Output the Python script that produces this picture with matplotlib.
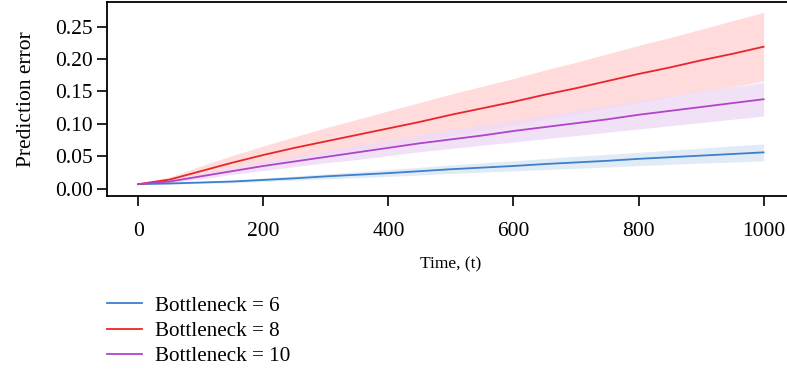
import matplotlib
matplotlib.use('Agg')
import matplotlib.pyplot as plt

# data (every 50 steps)
#=============================
t = [0, 50, 100, 150, 200, 250, 300, 350, 400, 450, 500,
     550, 600, 650, 700, 750, 800, 850, 900, 950, 1000]

err_b6 = [0.007, 0.008, 0.0095, 0.011, 0.0135, 0.016, 0.019, 0.0215, 0.024, 0.027, 0.030,
          0.0325, 0.035, 0.038, 0.0405, 0.043, 0.046, 0.0485, 0.051, 0.0535, 0.056]
up_b6 = [0.0075, 0.009, 0.011, 0.0135, 0.0165, 0.0195, 0.023, 0.026, 0.0295, 0.033, 0.0365,
         0.040, 0.043, 0.0465, 0.050, 0.053, 0.056, 0.0595, 0.0625, 0.066, 0.069]
lo_b6 = [0.0065, 0.007, 0.008, 0.009, 0.011, 0.013, 0.015, 0.017, 0.019, 0.021, 0.0235,
         0.0255, 0.0275, 0.0295, 0.0315, 0.0335, 0.0355, 0.0375, 0.0395, 0.041, 0.043]

err_b8 = [0.007, 0.014, 0.027, 0.040, 0.052, 0.063, 0.073, 0.083, 0.093, 0.103, 0.114,
          0.124, 0.134, 0.145, 0.155, 0.166, 0.177, 0.187, 0.198, 0.208, 0.219]
up_b8 = [0.008, 0.018, 0.035, 0.051, 0.066, 0.080, 0.094, 0.107, 0.120, 0.133, 0.146,
         0.158, 0.170, 0.183, 0.195, 0.208, 0.221, 0.233, 0.246, 0.259, 0.272]
lo_b8 = [0.006, 0.010, 0.019, 0.029, 0.038, 0.046, 0.052, 0.059, 0.066, 0.073, 0.082,
         0.090, 0.098, 0.107, 0.115, 0.124, 0.133, 0.141, 0.150, 0.157, 0.166]

err_b10 = [0.007, 0.011, 0.019, 0.027, 0.035, 0.042, 0.049, 0.056, 0.063, 0.070, 0.076,
           0.082, 0.089, 0.095, 0.101, 0.107, 0.114, 0.120, 0.126, 0.132, 0.138]
up_b10 = [0.008, 0.013, 0.023, 0.032, 0.042, 0.050, 0.058, 0.067, 0.075, 0.083, 0.091,
          0.098, 0.106, 0.113, 0.121, 0.128, 0.136, 0.143, 0.151, 0.157, 0.164]
lo_b10 = [0.006, 0.009, 0.015, 0.022, 0.028, 0.034, 0.040, 0.045, 0.051, 0.057, 0.062,
          0.067, 0.072, 0.077, 0.082, 0.087, 0.092, 0.097, 0.102, 0.107, 0.112]

labels = ['Bottleneck = 6', 'Bottleneck = 8', 'Bottleneck = 10']
colors = ['#3d7fcb', '#e8262a', '#b143c9']
fills = ['#dce8f5', '#ffd5d5', '#efdcf6']

plt.rcParams['font.family'] = ['Liberation Serif', 'DejaVu Serif']

fig = plt.figure(figsize=(7.87, 3.75), dpi=100)
ax = fig.add_axes([107/787, 179/375, 1 - 107/787 + 0.01, 194/375])

# bands first, then lines on top
#=============================
series = [(err_b6, lo_b6, up_b6), (err_b8, lo_b8, up_b8), (err_b10, lo_b10, up_b10)]
for (m, lo, up), f in zip(series, fills):
    ax.fill_between(t, lo, up, color=f, alpha=0.85, lw=0)
for (m, lo, up), c, lab in zip(series, colors, labels):
    ax.plot(t, m, color=c, lw=1.3, label=lab)

ax.set_xlim(-50, 1050)
ax.set_ylim(-0.0113, 0.288)
ax.set_xticks([0, 200, 400, 600, 800, 1000])
ax.set_yticks([0.0, 0.05, 0.10, 0.15, 0.20, 0.25])
ax.set_yticklabels(['0.00', '0.05', '0.10', '0.15', '0.20', '0.25'])
ax.tick_params(labelsize=15.5, width=1.2, length=7, direction='out')
ax.tick_params(axis='x', pad=12)
ax.tick_params(axis='y', pad=3)
ax.spines['right'].set_visible(False)
for s in ['left', 'top', 'bottom']:
    ax.spines[s].set_linewidth(1.3)

ax.set_xlabel('Time, (t)', fontsize=12.5, labelpad=11)
ax.set_ylabel('Prediction error', fontsize=15.5, labelpad=14)

fig.legend(loc='upper left', bbox_to_anchor=(0.125, 0.233), frameon=False,
           fontsize=15.2, handlelength=1.66, handletextpad=0.6, labelspacing=0.25,
           borderaxespad=0)

fig.savefig('out.png', dpi=100)
